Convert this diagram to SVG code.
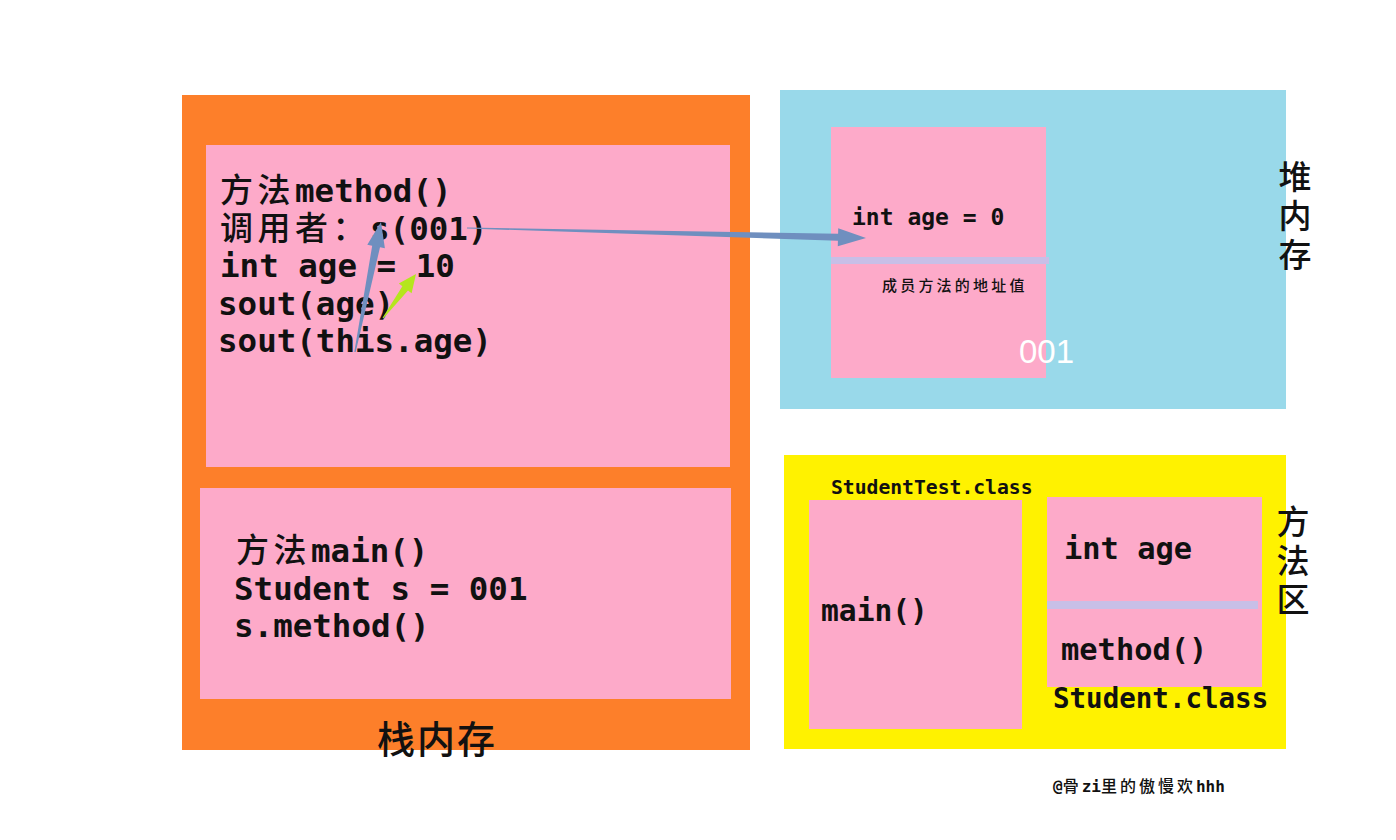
<svg xmlns="http://www.w3.org/2000/svg" width="1396" height="840" viewBox="0 0 1396 840">
<style>
.m{font-family:"DejaVu Sans Mono","Liberation Mono",monospace;fill:#111;font-weight:bold}
.c{font-family:"Noto Sans CJK SC","Noto Sans",sans-serif;fill:#111;font-weight:500}
.big{font-size:32.5px}
.bigc{font-size:33px;letter-spacing:4.5px}
.pink{fill:#FDAAC9}
.lav{fill:#C8BFE7}
.lbl{font-family:"Noto Sans CJK SC","Noto Sans",sans-serif;font-size:33px;fill:#111;text-anchor:middle;font-weight:500}
.vert{font-family:"Noto Sans CJK SC","Noto Sans",sans-serif;font-size:33px;fill:#111;font-weight:500;writing-mode:vertical-rl;letter-spacing:6px}
</style>
<rect width="1396" height="840" fill="#fff"/>
<g id="stack">
<rect x="182" y="95" width="568" height="655" fill="#FD7F2A"/>
<text class="lbl" x="437" y="753" style="font-size:38px;letter-spacing:2px">栈内存</text>
</g>
<g id="method-frame">
<rect class="pink" x="206" y="145" width="524" height="322"/>
<text class="m big"><tspan x="220" y="202"><tspan class="c bigc">方法</tspan>method()</tspan><tspan x="220" y="239.5"><tspan class="c bigc">调用者：</tspan>s(001)</tspan><tspan x="220" y="277">int age = 10</tspan><tspan x="218" y="314.5">sout(age)</tspan><tspan x="218" y="352">sout(this.age)</tspan></text>
</g>
<g id="main-frame">
<rect class="pink" x="200" y="488" width="531" height="211"/>
<text class="m big"><tspan x="236" y="562"><tspan class="c bigc">方法</tspan>main()</tspan><tspan x="234" y="600">Student s = 001</tspan><tspan x="234" y="637">s.method()</tspan></text>
</g>
<g id="heap">
<rect x="780" y="90" width="506" height="319" fill="#99D9EA"/>
<text class="vert" x="1295" y="160">堆内存</text>
</g>
<g id="object-001">
<rect class="pink" x="831" y="127" width="215" height="251"/>
<rect class="lav" x="831" y="257" width="218" height="7"/>
<text class="m" x="852" y="225" style="font-size:23px">int age = 0</text>
<text class="c" x="882" y="291" style="font-size:15px;letter-spacing:3.2px">成员方法的地址值</text>
<text x="1019" y="363" style="font-family:'Liberation Sans',Arial,sans-serif;font-size:33px;fill:#fff">001</text>
</g>
<g id="method-area">
<rect x="784" y="455" width="502" height="294" fill="#FFF200"/>
<text class="vert" x="1293" y="505">方法区</text>
</g>
<g id="studenttest-class">
<text class="m" x="831" y="494" style="font-size:19.7px">StudentTest.class</text>
<rect class="pink" x="809" y="500" width="213" height="229"/>
<text class="m" x="821" y="621" style="font-size:29.6px">main()</text>
</g>
<g id="student-class">
<rect class="pink" x="1047" y="497" width="215" height="190"/>
<rect class="lav" x="1047" y="601" width="211" height="8"/>
<text class="m" x="1064" y="559" style="font-size:30.4px">int age</text>
<text class="m" x="1061" y="660" style="font-size:30.4px">method()</text>
<text class="m" x="1053" y="708" style="font-size:27.5px">Student.class</text>
</g>
<g id="connectors">
<polygon fill="#6F8FBF" points="467,227.5 838.1,233.8 838.2,228.3 866,238 837.8,246.3 837.9,240.8 467,228.5"/>
<polygon fill="#6F8FBF" points="354.3,351.9 372.2,245.7 367.3,244.7 381,222 384.9,248.3 380,247.3 355.7,352.1"/>
<polygon fill="#B5E61D" points="382.6,317.7 402.4,286.3 398.8,283.6 416,274 411.6,293.2 408,290.5 383.4,318.3"/>
</g>
<text x="1053" y="792"><tspan class="m" style="font-size:16px">@</tspan><tspan class="c" style="font-size:16px;letter-spacing:3px">骨</tspan><tspan class="m" style="font-size:16px">zi</tspan><tspan class="c" style="font-size:16px;letter-spacing:3px">里的傲慢欢</tspan><tspan class="m" style="font-size:16px">hhh</tspan></text>
</svg>
